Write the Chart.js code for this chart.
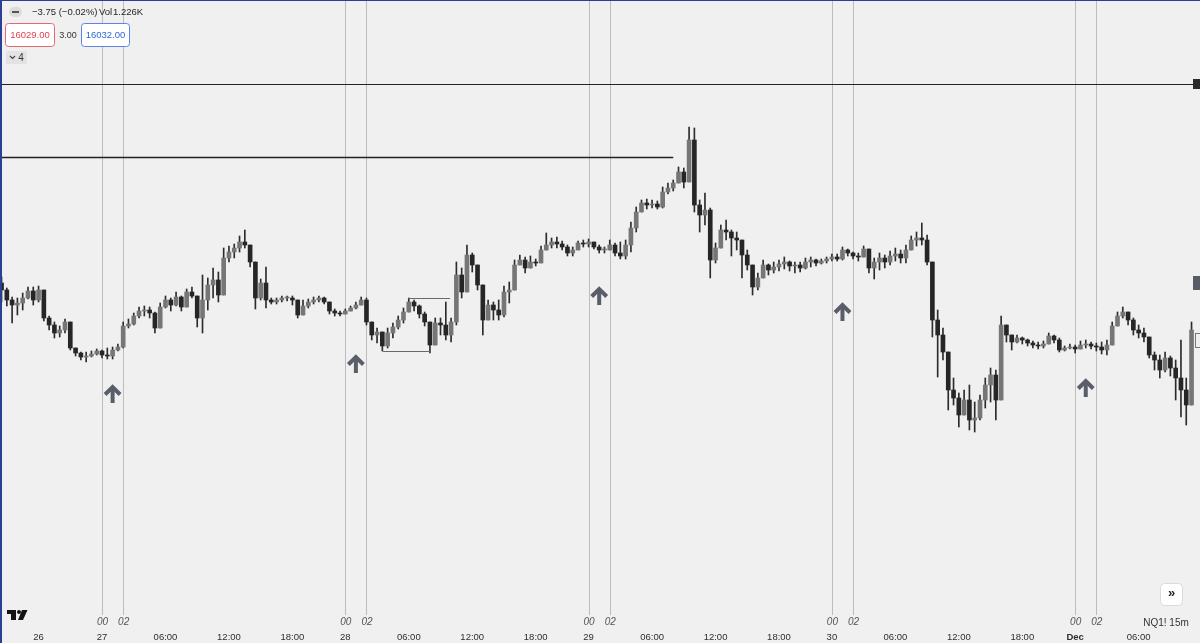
<!DOCTYPE html>
<html>
<head>
<meta charset="utf-8">
<title>NQ1! 15m</title>
<script src="https://cdn.jsdelivr.net/npm/chart.js@4.4.1/dist/chart.umd.min.js"></script>
<style>
    html, body { margin: 0; padding: 0; background: #f0f0f0; }
    #graph { position: relative; width: 1200px; height: 643px; }
    canvas { display: block; }
</style>
</head>
<body>
<div id="graph"></div>
<script>
// Candles, 30 min each. Open of a candle is the close of the one before.
const FIRST_OPEN = 16117;

const closes = [
    16110,16100,16095,16097,16102,16109,16100,16110,16082,16075,
    16067,16070,16078,16052,16047,16043,16044,16046,16049,16045,
    16044,16050,16053,16074,16076,16084,16089,16090,16087,16072,
    16093,16100,16095,16103,16093,16108,16104,16082,16100,16115,
    16120,16105,16142,16148,16152,16158,16155,16138,16102,16117,
    16100,16098,16100,16102,16102,16100,16085,16094,16098,16100,
    16102,16098,16089,16087,16086,16089,16092,16095,16100,16078,
    16065,16068,16054,16067,16073,16080,16088,16098,16094,16086,
    16078,16055,16077,16075,16065,16078,16125,16108,16145,16135,
    16115,16080,16095,16090,16085,16108,16110,16135,16140,16132,
    16138,16137,16150,16155,16158,16156,16153,16147,16150,16157,
    16156,16158,16153,16150,16150,16155,16147,16144,16155,16172,
    16188,16197,16195,16196,16193,16208,16212,16217,16228,16218,
    16260,16195,16185,16190,16140,16152,16170,16168,16162,16160,
    16145,16135,16113,16122,16135,16130,16133,16136,16138,16134,
    16135,16132,16138,16140,16137,16139,16141,16143,16141,16150,
    16147,16144,16143,16151,16132,16138,16142,16138,16144,16146,
    16142,16150,16160,16162,16160,16138,16080,16065,16048,16010,
    16002,15985,16000,15980,15982,16000,16015,16025,16000,16075,
    16065,16058,16062,16060,16057,16055,16054,16056,16064,16060,
    16050,16052,16053,16051,16055,16056,16054,16053,16050,16055,
    16074,16084,16088,16080,16070,16067,16063,16045,16040,16030,
    16042,16032,16022,16010,15995,16070
];

const highs = [
    16123,16112,16103,16102,16107,16113,16113,16114,16110,16084,
    16078,16074,16081,16078,16051,16048,16048,16049,16051,16050,
    16052,16053,16056,16078,16081,16087,16093,16094,16093,16088,
    16097,16104,16102,16108,16104,16111,16113,16100,16125,16122,
    16132,16128,16152,16154,16156,16164,16170,16152,16132,16121,
    16133,16102,16102,16104,16104,16104,16100,16100,16101,16103,
    16104,16103,16098,16091,16089,16091,16094,16098,16103,16102,
    16075,16072,16067,16072,16077,16084,16092,16102,16100,16095,
    16088,16070,16082,16082,16098,16082,16138,16132,16155,16147,
    16135,16115,16100,16098,16100,16114,16118,16140,16145,16143,
    16144,16141,16154,16167,16162,16163,16159,16155,16153,16159,
    16160,16161,16157,16155,16153,16160,16157,16158,16160,16178,
    16193,16200,16201,16200,16199,16213,16217,16220,16233,16232,
    16273,16272,16200,16207,16192,16157,16175,16180,16170,16168,
    16154,16150,16135,16127,16140,16136,16138,16140,16143,16139,
    16138,16138,16142,16143,16141,16141,16143,16146,16146,16153,
    16151,16148,16147,16154,16150,16142,16147,16145,16149,16152,
    16150,16155,16164,16168,16177,16165,16138,16090,16072,16030,
    16022,16007,16010,16015,15998,16005,16022,16032,16030,16084,
    16072,16064,16065,16063,16061,16059,16058,16059,16067,16065,
    16062,16054,16056,16055,16059,16060,16058,16057,16058,16060,
    16078,16088,16093,16085,16082,16075,16072,16062,16048,16045,
    16048,16044,16040,16060,16022,16078
];

const lows = [
    16098,16094,16077,16085,16090,16101,16095,16098,16079,16070,
    16062,16063,16067,16050,16044,16040,16038,16043,16045,16042,
    16041,16041,16049,16052,16072,16075,16082,16084,16082,16067,
    16085,16092,16089,16094,16089,16098,16102,16073,16067,16090,
    16102,16098,16124,16138,16142,16148,16152,16133,16091,16100,
    16092,16096,16096,16098,16099,16095,16082,16087,16092,16096,
    16098,16096,16086,16084,16084,16086,16089,16091,16096,16075,
    16060,16057,16049,16052,16062,16071,16077,16091,16089,16082,
    16074,16047,16066,16065,16060,16058,16075,16102,16127,16128,
    16110,16065,16082,16080,16080,16083,16097,16110,16135,16127,
    16134,16134,16140,16150,16152,16152,16150,16144,16144,16153,
    16153,16153,16151,16147,16147,16151,16144,16141,16141,16148,
    16168,16190,16191,16192,16191,16192,16206,16209,16218,16212,
    16220,16188,16168,16175,16122,16137,16155,16160,16144,16150,
    16122,16130,16105,16110,16127,16125,16127,16129,16131,16129,
    16127,16128,16131,16133,16134,16136,16137,16139,16139,16140,
    16144,16141,16139,16143,16127,16121,16130,16132,16135,16139,
    16137,16137,16152,16154,16155,16135,16063,16023,16040,15990,
    15995,15973,15985,15970,15968,15980,15992,15998,15980,16010,
    16058,16050,16057,16056,16054,16052,16051,16052,16057,16057,
    16048,16049,16051,16047,16052,16052,16051,16049,16046,16045,
    16060,16075,16082,16075,16065,16062,16058,16042,16030,16022,
    16028,16024,16000,15983,15975,16000
];

// Time axis (candle index -> label)
const dateTicks  = [7, 19, 31, 43, 55, 65, 77, 89, 101, 111, 123, 135, 147, 157, 169, 181, 193, 203, 215];
const dateLabels = ['26', '27', '06:00', '12:00', '18:00', '28', '06:00', '12:00', '18:00',
                    '29', '06:00', '12:00', '18:00', '30', '06:00', '12:00', '18:00', 'Dec', '06:00'];

// Session markers (00:00 and 02:00 each day)
const sessionTicks  = [19, 23, 65, 69, 111, 115, 157, 161, 203, 207];
const sessionLabels = ['00', '02', '00', '02', '00', '02', '00', '02', '00', '02'];

// Up arrows drawn under the price
const arrowIdx   = [21, 67, 113, 159, 205];
const arrowPrice = [16006, 16036, 16104, 16088, 16012];

// Drawn horizontal levels: [from index, to index, price]
const levelFrom  = [-0.3, -0.3, 76.9, 72.1];
const levelTo    = [226.6, 127.0, 84.8, 81.0];
const levelPrice = [16316, 16243, 16102, 16049];

const opens = closes.map((c, i) => i === 0 ? FIRST_OPEN : closes[i - 1]);

const UP   = '#767676';
const DOWN = '#262626';
const WICK = '#2c2c2c';
const FONT = '"Liberation Sans", Arial, sans-serif';

const isUp = (i) => closes[i] >= opens[i];

const overlay = {
    id: 'overlay',
    beforeDatasetsDraw(chart) {
        const { ctx, scales: { x } } = chart;
        ctx.save();
        // vertical session lines behind the candles
        ctx.strokeStyle = '#bdbdbd';
        ctx.lineWidth = 1;
        for (let t of sessionTicks) {
            const px = Math.round(x.getPixelForValue(t)) + 0.5;
            ctx.beginPath();
            ctx.moveTo(px, 0);
            ctx.lineTo(px, 615);
            ctx.stroke();
        }
        ctx.restore();
    },
    afterDatasetsDraw(chart) {
        const { ctx, scales: { x, y } } = chart;
        ctx.save();

        // horizontal levels
        levelPrice.forEach((p, i) => {
            const py = Math.round(y.getPixelForValue(p)) + 0.5;
            ctx.strokeStyle = i < 2 ? '#222' : '#6a6a6a';
            ctx.lineWidth = i === 1 ? 1.4 : 1;
            ctx.beginPath();
            ctx.moveTo(x.getPixelForValue(levelFrom[i]), py);
            ctx.lineTo(x.getPixelForValue(levelTo[i]), py);
            ctx.stroke();
        });

        // arrows
        ctx.strokeStyle = '#5a5e69';
        ctx.lineWidth = 4;
        ctx.lineJoin = 'miter';
        arrowIdx.forEach((a, i) => {
            const cx = x.getPixelForValue(a);
            const cy = y.getPixelForValue(arrowPrice[i]);
            ctx.beginPath();
            ctx.moveTo(cx, cy - 7);
            ctx.lineTo(cx, cy + 9);
            ctx.stroke();
            ctx.beginPath();
            ctx.moveTo(cx - 7.5, cy + 0.5);
            ctx.lineTo(cx, cy - 7);
            ctx.lineTo(cx + 7.5, cy + 0.5);
            ctx.stroke();
        });

        // right edge markers
        ctx.fillStyle = '#2a2a2a';
        ctx.fillRect(1193, y.getPixelForValue(levelPrice[0]) - 5, 7, 10);
        ctx.fillStyle = '#595c66';
        ctx.fillRect(1193, 276, 7, 14);
        ctx.strokeStyle = '#777';
        ctx.lineWidth = 1;
        ctx.strokeRect(1195.5, 333.5, 6, 14);

        ctx.restore();
    },
    afterDraw(chart) {
        const { ctx, scales: { x } } = chart;
        ctx.save();

        // time labels
        ctx.textAlign = 'center';
        ctx.textBaseline = 'middle';
        dateTicks.forEach((t, i) => {
            ctx.font = dateLabels[i] === 'Dec' ? `bold 9.5px ${FONT}` : `9.5px ${FONT}`;
            ctx.fillStyle = '#2e2e2e';
            ctx.fillText(dateLabels[i], x.getPixelForValue(t), 637);
        });
        ctx.font = `italic 10px ${FONT}`;
        ctx.fillStyle = '#555';
        sessionTicks.forEach((t, i) => ctx.fillText(sessionLabels[i], x.getPixelForValue(t) + 0.5, 622));

        // legend, top left
        ctx.fillStyle = '#dcdcdc';
        ctx.beginPath();
        ctx.roundRect(9, 7, 13, 10, 5);
        ctx.fill();
        ctx.fillStyle = '#555';
        ctx.fillRect(12, 11, 7, 2);

        ctx.textAlign = 'left';
        ctx.font = `9.5px ${FONT}`;
        ctx.fillStyle = '#1e1e1e';
        ctx.fillText('\u22123.75 (\u22120.02%)', 32, 12);
        ctx.fillText('Vol', 99, 12);
        ctx.fillText('1.226K', 113, 12);

        ctx.fillStyle = '#fff';
        ctx.strokeStyle = '#e06a72';
        ctx.lineWidth = 1;
        ctx.beginPath();
        ctx.roundRect(5.5, 23.5, 49, 23, 3);
        ctx.fill();
        ctx.stroke();
        ctx.strokeStyle = '#5d83e6';
        ctx.beginPath();
        ctx.roundRect(81.5, 23.5, 48, 23, 3);
        ctx.fill();
        ctx.stroke();

        ctx.textAlign = 'center';
        ctx.font = `9.5px ${FONT}`;
        ctx.fillStyle = '#e0424f';
        ctx.fillText('16029.00', 30, 35.5);
        ctx.fillStyle = '#2f66dd';
        ctx.fillText('16032.00', 105.5, 35.5);
        ctx.font = `9px ${FONT}`;
        ctx.fillStyle = '#333';
        ctx.fillText('3.00', 68, 35.5);

        ctx.fillStyle = '#e3e3e3';
        ctx.beginPath();
        ctx.roundRect(6, 51, 21, 13, 2);
        ctx.fill();
        ctx.strokeStyle = '#444';
        ctx.lineWidth = 1.2;
        ctx.beginPath();
        ctx.moveTo(10, 56);
        ctx.lineTo(12.5, 58.5);
        ctx.lineTo(15, 56);
        ctx.stroke();
        ctx.font = `10px ${FONT}`;
        ctx.fillStyle = '#333';
        ctx.fillText('4', 21, 58);

        // bottom right
        ctx.font = `10px ${FONT}`;
        ctx.fillStyle = '#333';
        ctx.fillText('NQ1! 15m', 1166, 623);
        ctx.fillStyle = '#fff';
        ctx.strokeStyle = '#dadada';
        ctx.lineWidth = 1;
        ctx.beginPath();
        ctx.roundRect(1160.5, 583.5, 22, 22, 4);
        ctx.fill();
        ctx.stroke();
        ctx.font = `bold 13px ${FONT}`;
        ctx.fillStyle = '#222';
        ctx.fillText('\u00bb', 1171.5, 593);

        // logo, bottom left
        ctx.fillStyle = '#131313';
        ctx.fillRect(7, 610, 9, 4);
        ctx.fillRect(11, 610, 5, 10);
        ctx.beginPath();
        ctx.arc(19, 612, 2, 0, Math.PI * 2);
        ctx.fill();
        ctx.beginPath();
        ctx.moveTo(22, 610);
        ctx.lineTo(27.5, 610);
        ctx.lineTo(23, 620);
        ctx.lineTo(18, 620);
        ctx.closePath();
        ctx.fill();

        // window frame
        ctx.fillStyle = '#2c3f96';
        ctx.fillRect(0, 0, 2, 643);
        ctx.fillRect(0, 0, 1200, 1);

        ctx.restore();
    }
};

window.addEventListener('load', () => {
    const _graph = document.querySelector('#graph');
    const _chart = document.createElement('canvas');
    _chart.width = 1200;
    _chart.height = 643;
    _graph.append(_chart);

    const bodies = closes.map((c, i) => ({ x: i, y: [opens[i], c] }));
    const wicks  = closes.map((c, i) => ({
        x: i,
        y: [Math.min(lows[i], opens[i], c), Math.max(highs[i], opens[i], c)]
    }));

    new Chart(_chart, {
        type: 'bar',
        data: {
            datasets: [
                {
                    label: 'body',
                    data: bodies,
                    order: 0,
                    grouped: false,
                    barThickness: 4,
                    minBarLength: 1,
                    borderWidth: 0,
                    backgroundColor: (c) => isUp(c.dataIndex) ? UP : DOWN
                },
                {
                    label: 'wick',
                    data: wicks,
                    order: 1,
                    grouped: false,
                    barThickness: 1,
                    borderWidth: 0,
                    backgroundColor: WICK
                }
            ]
        },
        options: {
            responsive: false,
            animation: false,
            events: [],
            layout: { padding: 0 },
            plugins: {
                legend: { display: false },
                tooltip: { enabled: false }
            },
            scales: {
                x: { type: 'linear', min: -0.29, max: 226.6, offset: false, display: false },
                y: { min: 15757, max: 16400, display: false }
            }
        },
        plugins: [overlay]
    });
});
</script>
</body>
</html>
